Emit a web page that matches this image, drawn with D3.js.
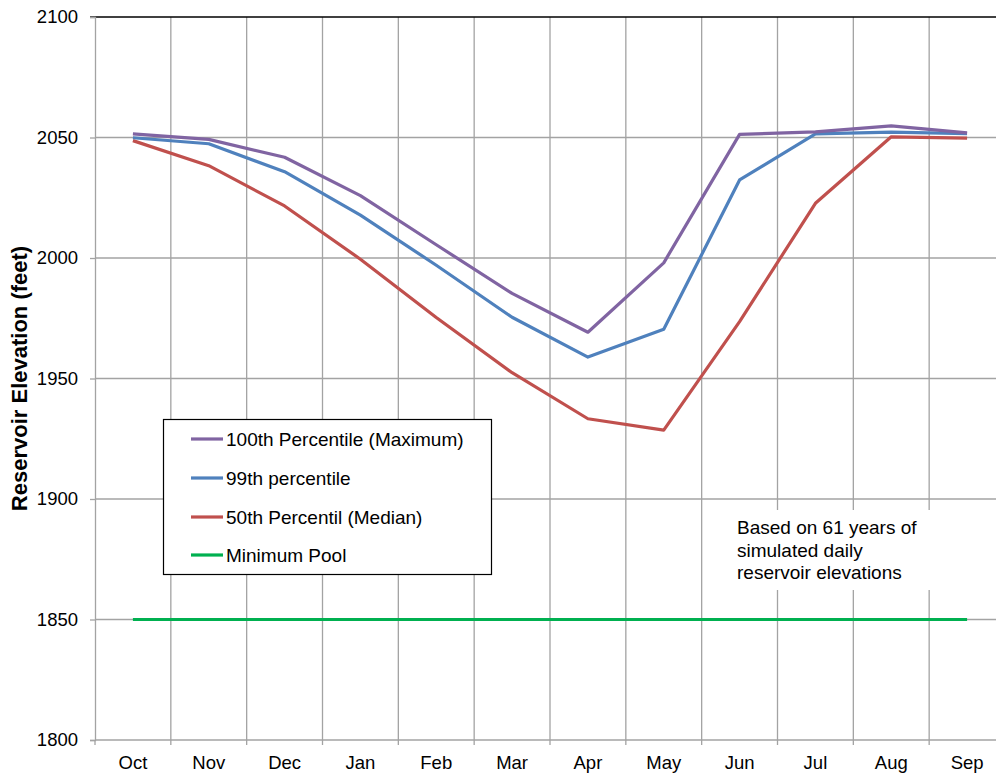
<!DOCTYPE html>
<html><head><meta charset="utf-8">
<script src="https://cdn.jsdelivr.net/npm/d3@7"></script>
<style>html,body{margin:0;padding:0;background:#fff;overflow:hidden}svg{display:block}text{font-family:"Liberation Sans",Arial,sans-serif}</style>
</head><body>
<svg id="c" width="996" height="773"></svg>
<script>
const months = ["Oct","Nov","Dec","Jan","Feb","Mar","Apr","May","Jun","Jul","Aug","Sep"];
const yTicks = [1800,1850,1900,1950,2000,2050,2100];
const p100 = [2051.5,2049.2,2041.8,2025.9,2005.5,1985.3,1969.2,1998.0,2051.3,2052.3,2054.8,2051.9];
const p99  = [2049.9,2047.4,2035.8,2017.8,1997.0,1975.4,1958.9,1970.4,2032.4,2051.5,2052.2,2051.6];
const p50  = [2048.7,2038.3,2021.6,1999.5,1975.3,1952.4,1933.3,1928.6,1973.6,2022.7,2050.3,2049.7];
const minPool = [1850,1850,1850,1850,1850,1850,1850,1850,1850,1850,1850,1850];
const seriesNames = ["100th Percentile (Maximum)","99th percentile","50th Percentil (Median)","Minimum Pool"];
const seriesColors = ["#8064A2","#4F81BD","#C0504D","#00B050"];
const seriesData = [p100,p99,p50,minPool];
const note = ["Based on 61 years of","simulated daily","reservoir elevations"];

(function(){
const svg = d3.select("#c");
const L = 95, R = 1005, T = 17, B = 740;
const x = d3.scaleBand().domain(months).range([L,R]);
const y = d3.scaleLinear().domain([1800,2100]).range([B,T]);
const grid = "#a3a3a3";
const FF = "Liberation Sans, Arial, sans-serif";

svg.append("g").selectAll("line").data(yTicks.filter(d=>d>1800 && d<2100)).join("line")
  .attr("x1",L).attr("x2",R).attr("y1",d=>y(d)).attr("y2",d=>y(d))
  .attr("stroke",grid).attr("stroke-width",1.3);
const bounds = months.map(m=>x(m)).concat([R]);
svg.append("g").selectAll("line").data(bounds.slice(1)).join("line")
  .attr("x1",d=>d).attr("x2",d=>d).attr("y1",T).attr("y2",B)
  .attr("stroke",grid).attr("stroke-width",1.3);
svg.append("line").attr("x1",L-5).attr("x2",R).attr("y1",y(2100)).attr("y2",y(2100))
  .attr("stroke","#000").attr("stroke-width",1.3);

const yAxis = d3.axisLeft(y).tickValues(yTicks).tickSize(5).tickPadding(12).tickFormat(d3.format("d"));
const gy = svg.append("g").attr("transform",`translate(${L},0)`).call(yAxis);
gy.select(".domain").attr("stroke",grid).attr("stroke-width",1.3);
gy.selectAll(".tick line").attr("stroke",grid).attr("stroke-width",1.3);
gy.selectAll("text").attr("font-size","18.5px").attr("fill","#000").attr("font-family",FF);

const xAxis = d3.axisBottom(x).tickSize(0).tickPadding(16);
const gx = svg.append("g").attr("transform",`translate(0,${B})`).call(xAxis);
gx.select(".domain").remove();
gx.selectAll("text").attr("font-size","18.5px").attr("fill","#000").attr("font-family",FF);
svg.append("line").attr("x1",L).attr("x2",R).attr("y1",B).attr("y2",B).attr("stroke",grid).attr("stroke-width",1.3);
svg.append("g").selectAll("line").data(bounds).join("line")
  .attr("x1",d=>d).attr("x2",d=>d).attr("y1",B).attr("y2",B+5)
  .attr("stroke",grid).attr("stroke-width",1.3);

svg.append("rect").attr("x",725).attr("y",510).attr("width",290).attr("height",80).attr("fill","#fff");
svg.append("g").selectAll("text").data(note).join("text")
  .attr("x",737).attr("y",(d,i)=>534+i*22.5).attr("font-size","19px").attr("fill","#000").text(d=>d);

const line = d3.line().x((d,i)=>x(months[i])+x.bandwidth()/2).y(d=>y(d));
[3,2,1,0].forEach(k=>{
  svg.append("path").datum(seriesData[k]).attr("d",line)
    .attr("fill","none").attr("stroke",seriesColors[k]).attr("stroke-width",3.2)
    .attr("stroke-linejoin","round");
});

const lg = svg.append("g");
lg.append("rect").attr("x",163.5).attr("y",419.5).attr("width",328).attr("height",155)
  .attr("fill","#fff").attr("stroke","#000").attr("stroke-width",1.2);
const rowsY = [439,478,517,555];
seriesNames.forEach((n,i)=>{
  lg.append("line").attr("x1",191).attr("x2",223).attr("y1",rowsY[i]).attr("y2",rowsY[i])
    .attr("stroke",seriesColors[i]).attr("stroke-width",3.2);
  lg.append("text").attr("x",226).attr("y",rowsY[i]).attr("dy","0.35em")
    .attr("font-size","19px").attr("fill","#000").text(n);
});

svg.append("text").attr("transform",`translate(27,${(T+B)/2}) rotate(-90)`)
  .attr("text-anchor","middle").attr("font-size","22px").attr("font-weight","bold").attr("fill","#000")
  .text("Reservoir Elevation (feet)");
})();
</script>
</body></html>
